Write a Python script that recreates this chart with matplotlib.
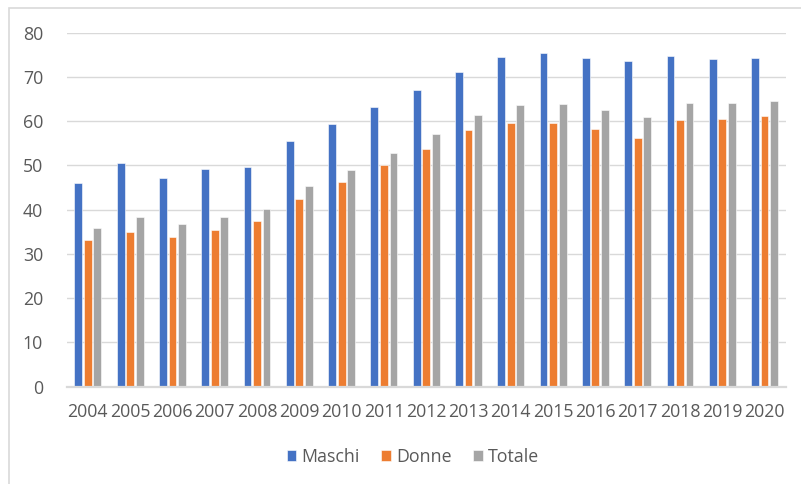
import numpy as np
import matplotlib
matplotlib.use("Agg")
import matplotlib.pyplot as plt
from matplotlib.patches import Rectangle

years = ["2004", "2005", "2006", "2007", "2008", "2009", "2010", "2011", "2012",
         "2013", "2014", "2015", "2016", "2017", "2018", "2019", "2020"]
maschi = [46.0, 50.5, 47.2, 49.2, 49.7, 55.6, 59.4, 63.3, 67.1,
          71.2, 74.4, 75.5, 74.3, 73.5, 74.8, 74.0, 74.2]
donne = [33.1, 35.0, 33.9, 35.3, 37.4, 42.5, 46.2, 50.0, 53.7,
         57.9, 59.7, 59.5, 58.2, 56.2, 60.2, 60.6, 61.1]
totale = [35.9, 38.4, 36.7, 38.3, 40.1, 45.4, 49.0, 52.9, 57.0,
          61.3, 63.6, 63.8, 62.5, 60.9, 64.1, 64.2, 64.6]

series = [("Maschi", maschi, "#4472C4"),
          ("Donne", donne, "#ED7D31"),
          ("Totale", totale, "#A5A5A5")]

plt.rcParams['font.family'] = ['Open Sans', 'DejaVu Sans']
text_color = "#595959"
grid_color = "#D9D9D9"
fsize = 12.8

fig = plt.figure(figsize=(8.01, 4.84), dpi=100)
ax = fig.add_axes([66.7 / 801, 1 - 386.7 / 484, 719 / 801, 354 / 484])

x = np.arange(len(years))
width = 0.185
step = 0.225
for i, (name, vals, color) in enumerate(series):
    ax.bar(x + (i - 1) * step, vals, width, color=color, label=name,
           edgecolor="white", linewidth=0.4, zorder=3)

ax.set_xlim(-0.5, len(years) - 0.5)
ax.set_ylim(0, 80)
ax.set_yticks(range(0, 81, 10))
ax.set_xticks(x)
ax.set_xticklabels(years)
ax.yaxis.grid(True, color=grid_color, linewidth=1.0, zorder=0)
ax.set_axisbelow(True)

for side in ["top", "right", "left"]:
    ax.spines[side].set_visible(False)
ax.spines["bottom"].set_color(grid_color)
ax.spines["bottom"].set_linewidth(1.6)
ax.spines["bottom"].set_zorder(4)

ax.tick_params(axis="both", length=0, labelsize=fsize, labelcolor=text_color)
ax.tick_params(axis="y", pad=17)
ax.tick_params(axis="x", pad=11.5)

fig.legend(loc="center", bbox_to_anchor=(413 / 801, 1 - 456.7 / 484), ncol=3,
           frameon=False, fontsize=fsize, labelcolor=text_color,
           handlelength=0.55, handleheight=0.55, handletextpad=0.3,
           columnspacing=1.2)

# chart border, only top and left edges are visible in the crop
fig.add_artist(Rectangle((8.5 / 801, -0.1), 1.2, 1.1 - 8.5 / 484,
                         transform=fig.transFigure, fill=False,
                         edgecolor=grid_color, linewidth=1.2))

fig.savefig("out.png", dpi=100)
